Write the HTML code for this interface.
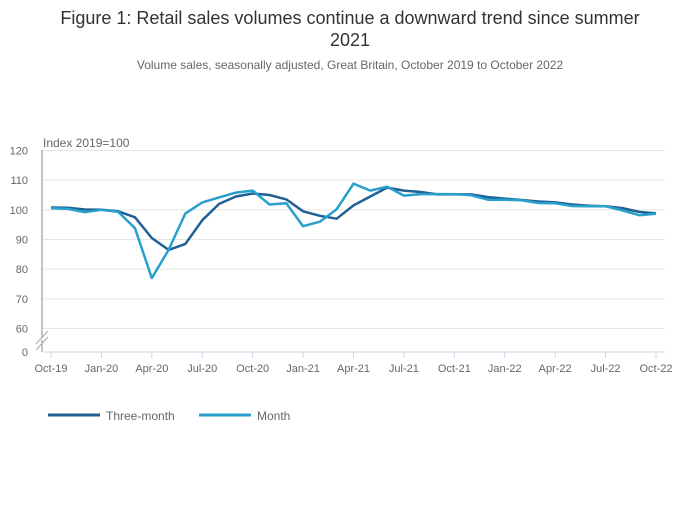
<!DOCTYPE html>
<html><head><meta charset="utf-8">
<style>
body{margin:0;background:#fff;font-family:"Liberation Sans",sans-serif;}
svg text{font-family:"Liberation Sans",sans-serif;}
</style></head>
<body>
<svg width="700" height="502" viewBox="0 0 700 502">
<text x="350" y="24" text-anchor="middle" font-size="18" fill="#333">Figure 1: Retail sales volumes continue a downward trend since summer</text>
<text x="350" y="46" text-anchor="middle" font-size="18" fill="#333">2021</text>
<text x="350" y="69" text-anchor="middle" font-size="12" fill="#666">Volume sales, seasonally adjusted, Great Britain, October 2019 to October 2022</text>
<text x="43" y="147" font-size="12" fill="#666">Index 2019=100</text>
<g id="grid"></g>
<line x1="42" y1="150" x2="42" y2="337" stroke="#888" stroke-width="1"/>
<line x1="42" y1="340" x2="42" y2="352" stroke="#888" stroke-width="1"/>
<line x1="36" y1="344" x2="48" y2="331" stroke="#aaa" stroke-width="1"/>
<line x1="36" y1="350" x2="48" y2="337" stroke="#aaa" stroke-width="1"/>
<line x1="42" y1="352" x2="665" y2="352" stroke="#ccd6eb" stroke-width="1"/>
<text x="28" y="356" text-anchor="end" font-size="11" fill="#666">0</text>
<g id="xaxis"></g>
<g id="series"></g>
<line x1="48" y1="415" x2="100" y2="415" stroke="#206095" stroke-width="3"/>
<text x="106" y="420" font-size="12" fill="#666">Three-month</text>
<line x1="199" y1="415" x2="251" y2="415" stroke="#27a0cc" stroke-width="3"/>
<text x="257" y="420" font-size="12" fill="#666">Month</text>
</svg>
<script>
const months = ["Oct-19","Nov-19","Dec-19","Jan-20","Feb-20","Mar-20","Apr-20","May-20","Jun-20","Jul-20","Aug-20","Sep-20","Oct-20","Nov-20","Dec-20","Jan-21","Feb-21","Mar-21","Apr-21","May-21","Jun-21","Jul-21","Aug-21","Sep-21","Oct-21","Nov-21","Dec-21","Jan-22","Feb-22","Mar-22","Apr-22","May-22","Jun-22","Jul-22","Aug-22","Sep-22","Oct-22"];
const threeMonth = [100.8,100.7,100.1,100.0,99.5,97.5,90.5,86.5,88.5,96.5,102,104.5,105.5,105,103.5,99.5,98,97,101.5,104.5,107.5,106.5,106,105.2,105.2,105.2,104.3,103.8,103.3,102.8,102.5,101.8,101.4,101.2,100.6,99.3,98.8];
const month = [100.5,100.3,99.2,100.0,99.3,93.8,77,86.5,98.8,102.5,104.2,105.8,106.5,101.8,102.2,94.5,96,100.2,108.8,106.5,107.8,104.8,105.3,105.3,105.3,104.9,103.4,103.4,103.2,102.3,102.2,101.3,101.2,101.2,99.8,98.2,98.7];
const yTicks = [60,70,80,90,100,110,120];
const xTickLabels = ["Oct-19","Jan-20","Apr-20","Jul-20","Oct-20","Jan-21","Apr-21","Jul-21","Oct-21","Jan-22","Apr-22","Jul-22","Oct-22"];

const NS="http://www.w3.org/2000/svg";
const x0=51, x1=656, y60=328.5, y120=150.5;
function xs(i){return x0+(x1-x0)*i/(months.length-1);}
function ys(v){return y60+(v-60)*(y120-y60)/60;}
const grid=document.getElementById('grid');
yTicks.forEach(t=>{
  const l=document.createElementNS(NS,'line');
  l.setAttribute('x1',42);l.setAttribute('x2',665);
  l.setAttribute('y1',ys(t));l.setAttribute('y2',ys(t));
  l.setAttribute('stroke','#e6e6e6');
  
  
  grid.appendChild(l);
  const tx=document.createElementNS(NS,'text');
  tx.setAttribute('x',28);tx.setAttribute('y',ys(t)+4);
  tx.setAttribute('text-anchor','end');tx.setAttribute('font-size','11');tx.setAttribute('fill','#666');
  tx.textContent=t;
  
  
  grid.appendChild(tx);
});
const xa=document.getElementById('xaxis');
xTickLabels.forEach(lab=>{
  const i=months.indexOf(lab);
  const l=document.createElementNS(NS,'line');
  l.setAttribute('x1',xs(i));l.setAttribute('x2',xs(i));
  l.setAttribute('y1',352);l.setAttribute('y2',358);
  l.setAttribute('stroke','#ccd6eb');
  
  
  xa.appendChild(l);
  const tx=document.createElementNS(NS,'text');
  tx.setAttribute('x',xs(i));tx.setAttribute('y',372);
  tx.setAttribute('text-anchor','middle');tx.setAttribute('font-size','11');tx.setAttribute('fill','#666');
  tx.textContent=lab;
  
  
  xa.appendChild(tx);
});
const sg=document.getElementById('series');
function line(data,color,name){
  const p=document.createElementNS(NS,'polyline');
  p.setAttribute('points',data.map((v,i)=>xs(i).toFixed(1)+','+ys(v).toFixed(1)).join(' '));
  p.setAttribute('fill','none');p.setAttribute('stroke',color);p.setAttribute('stroke-width','2.5');
  p.setAttribute('stroke-linejoin','round');
  
  
  sg.appendChild(p);
}
line(threeMonth,'#206095','three-month-line');
line(month,'#27a0cc','month-line');
</script>
</body></html>
